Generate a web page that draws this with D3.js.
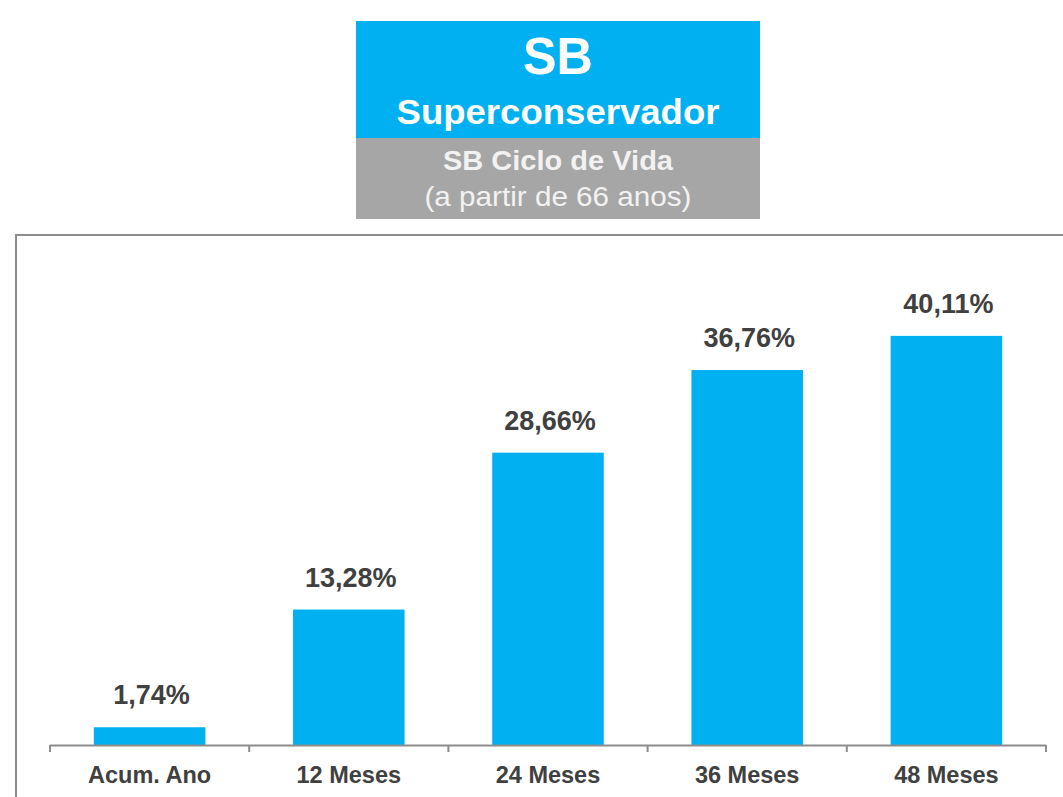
<!DOCTYPE html>
<html><head><meta charset="utf-8">
<script src="https://cdn.jsdelivr.net/npm/d3@7"></script>
<style>body{margin:0;background:#fff;}svg{display:block;font-family:"Liberation Sans",Arial,sans-serif;}</style>
</head><body>
<script>
const categories = ["Acum. Ano", "12 Meses", "24 Meses", "36 Meses", "48 Meses"];
const values = [1.74, 13.28, 28.66, 36.76, 40.11];
const valueLabels = ["1,74%", "13,28%", "28,66%", "36,76%", "40,11%"];
const titleLines = ["SB", "Superconservador"];
const subtitleLines = ["SB Ciclo de Vida", "(a partir de 66 anos)"];

const W = 1063, H = 797;
const svg = d3.select("body").append("svg").attr("width", W).attr("height", H);

// header box
svg.append("rect").attr("x", 356).attr("y", 21).attr("width", 404).attr("height", 117).attr("fill", "#00b0f0");
svg.append("rect").attr("x", 356).attr("y", 138).attr("width", 404).attr("height", 81).attr("fill", "#a6a6a6");
function headerText(txt, yPos, size, bold, len, fill) {
  svg.append("text").attr("x", 558).attr("y", yPos).attr("text-anchor", "middle").attr("fill", fill)
    .attr("font-weight", bold ? "bold" : "normal").attr("font-size", size)
    .attr("textLength", len).attr("lengthAdjust", "spacingAndGlyphs").text(txt);
}
headerText(titleLines[0], 74, 51, true, 70, "#fff");
headerText(titleLines[1], 124, 35.5, true, 323, "#fff");
headerText(subtitleLines[0], 170, 27.5, true, 230, "#f2f2f2");
headerText(subtitleLines[1], 206, 27.5, false, 267, "#f2f2f2");

// frame
svg.append("rect").attr("x", 16).attr("y", 235).attr("width", 1100).attr("height", 700)
  .attr("fill", "none").attr("stroke", "#8c8c8c").attr("stroke-width", 2);

const x = d3.scaleBand().domain(categories).range([50, 1046]).paddingInner(0.44).paddingOuter(0.22);
const y = d3.scaleLinear().domain([0, 45]).range([745, 286]);

svg.selectAll("rect.bar").data(values).join("rect").attr("class", "bar")
  .attr("x", (d, i) => x(categories[i])).attr("width", x.bandwidth())
  .attr("y", d => y(d)).attr("height", d => y(0) - y(d)).attr("fill", "#00b0f0");

svg.selectAll("text.val").data(values).join("text").attr("class", "val")
  .attr("x", (d, i) => x(categories[i]) + x.bandwidth() / 2 + 2)
  .attr("y", d => y(d) - 23).attr("text-anchor", "middle")
  .attr("font-weight", "bold").attr("font-size", 27).attr("fill", "#404040")
  .text((d, i) => valueLabels[i]);

// axis with ticks at band boundaries
const axisG = svg.append("g");
const x0 = 50;
axisG.append("line").attr("x1", 50).attr("x2", 1046).attr("y1", 745.5).attr("y2", 745.5)
  .attr("stroke", "#8c8c8c").attr("stroke-width", 2);
const bounds = d3.range(categories.length + 1).map(i => x0 + i * (996 / categories.length));
axisG.selectAll("line.tick").data(bounds).join("line").attr("class", "tick")
  .attr("x1", d => d).attr("x2", d => d).attr("y1", 745).attr("y2", 752)
  .attr("stroke", "#8c8c8c").attr("stroke-width", 2);
axisG.selectAll("text.cat").data(categories).join("text").attr("class", "cat")
  .attr("x", d => x(d) + x.bandwidth() / 2).attr("y", 783).attr("text-anchor", "middle")
  .attr("font-weight", "bold").attr("font-size", 23.5).attr("fill", "#404040").text(d => d);
</script>
</body></html>
